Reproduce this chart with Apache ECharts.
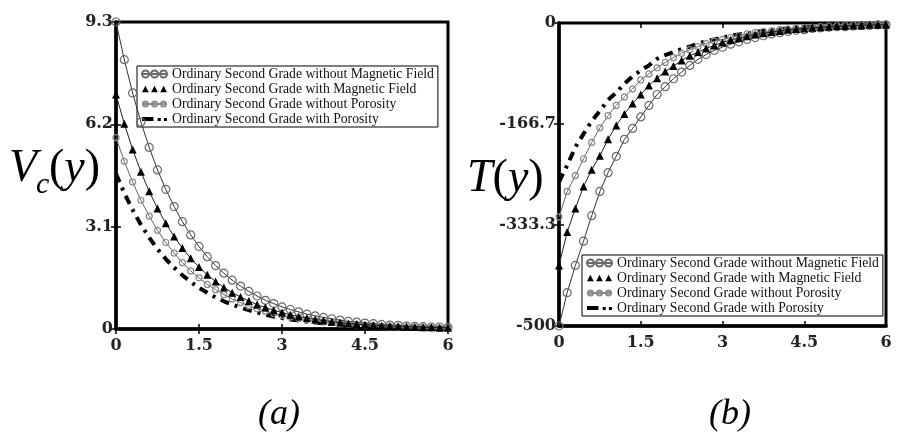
<!DOCTYPE html>
<html>
<head>
<meta charset="utf-8">
<script src="https://cdn.jsdelivr.net/npm/echarts@6/dist/echarts.min.js"></script>
<style>html,body{margin:0;padding:0;background:#fff;}#c{width:901px;height:434px;}</style>
</head>
<body>
<div id="c"></div>
<script>
const seriesNames = [
  'Ordinary Second Grade without Magnetic Field',
  'Ordinary Second Grade with Magnetic Field',
  'Ordinary Second Grade without Porosity',
  'Ordinary Second Grade with Porosity'
];
const xValues = [0,0.15,0.3,0.45,0.6,0.75,0.9,1.05,1.2,1.35,1.5,1.65,1.8,1.95,2.1,2.25,2.4,2.55,2.7,2.85,3,3.15,3.3,3.45,3.6,3.75,3.9,4.05,4.2,4.35,4.5,4.65,4.8,4.95,5.1,5.25,5.4,5.55,5.7,5.85,6];
const xTickLabels = ['0','1.5','3','4.5','6'];
const vcTickLabels = ['0','3.1','6.2','9.3'];
const tTickLabels = ['-500','-333.3','-166.7','0'];

// (a) V_c(y)
const vcNoMagnetic = [9.30,8.16,7.15,6.27,5.50,4.82,4.23,3.71,3.25,2.85,2.50,2.19,1.92,1.69,1.48,1.30,1.14,1.00,0.87,0.77,0.67,0.59,0.52,0.45,0.40,0.35,0.31,0.27,0.23,0.21,0.18,0.16,0.14,0.12,0.11,0.09,0.08,0.07,0.06,0.06,0.05];
const vcMagnetic = [7.10,6.22,5.44,4.76,4.17,3.65,3.20,2.80,2.45,2.14,1.88,1.64,1.44,1.26,1.10,0.97,0.85,0.74,0.65,0.57,0.50,0.43,0.38,0.33,0.29,0.26,0.22,0.20,0.17,0.15,0.13,0.11,0.10,0.09,0.08,0.07,0.06,0.05,0.05,0.04,0.04];
const vcNoPorosity = [5.80,5.08,4.45,3.90,3.42,2.99,2.62,2.30,2.01,1.76,1.55,1.35,1.19,1.04,0.91,0.80,0.70,0.61,0.54,0.47,0.41,0.36,0.32,0.28,0.24,0.21,0.19,0.16,0.14,0.13,0.11,0.10,0.08,0.07,0.06,0.06,0.05,0.04,0.04,0.03,0.03];
const vcPorosity = [4.70,4.12,3.61,3.16,2.77,2.42,2.12,1.86,1.63,1.43,1.25,1.10,0.96,0.84,0.74,0.65,0.57,0.50,0.44,0.38,0.33,0.29,0.26,0.22,0.20,0.17,0.15,0.13,0.12,0.10,0.09,0.08,0.07,0.06,0.05,0.05,0.04,0.04,0.03,0.03,0.02];

// (b) T(y)
const tNoMagnetic = [-500,-445,-400,-360,-318,-278,-247,-220,-192,-174,-155,-136,-118,-105,-92,-81,-70,-60,-52,-45,-40,-35,-31,-27,-24,-21,-18,-16,-14,-12,-11,-9,-8,-7,-6,-6,-5,-4,-4,-3,-3];
const tMagnetic = [-400,-345,-306,-270,-242,-219,-192,-169,-150,-133,-118,-103,-91,-80,-71,-62,-54,-48,-42,-37,-32,-28,-25,-22,-19,-17,-15,-13,-11,-10,-9,-8,-7,-6,-5,-5,-4,-4,-3,-3,-3];
const tNoPorosity = [-320,-278,-252,-224,-197,-173,-153,-136,-122,-109,-94,-84,-74,-65,-57,-50,-44,-39,-34,-30,-27,-24,-21,-18,-16,-14,-13,-11,-10,-9,-8,-7,-6,-5,-5,-4,-4,-3,-3,-3,-2];
const tPorosity = [-262,-235,-205,-183,-162,-145,-127,-115,-100,-88,-78,-70,-59,-53,-48,-43,-39,-34,-30,-27,-24,-21,-19,-17,-15,-13,-12,-10,-9,-8,-7,-6,-6,-5,-4,-4,-3,-3,-3,-2,-2];

function pairs(arr){ return xValues.map((x,i)=>[x,arr[i]]); }

const tickFont = {fontFamily:'DejaVu Serif', fontWeight:'bold', fontSize:16, color:'#222'};

function xAxisPair(gi){
  return [
    {type:'value', gridIndex:gi, position:'bottom', min:0, max:6, interval:1.5,
     axisLine:{show:true, onZero:false, lineStyle:{color:'#000', width:3.5}},
     axisTick:{show:true, inside:true, length:5, lineStyle:{color:'#000', width:1.5}},
     axisLabel:Object.assign({margin:9, formatter:v=>xTickLabels[Math.round(v/1.5)]}, tickFont),
     splitLine:{show:false}},
    {type:'value', gridIndex:gi, position:'top', min:0, max:6, interval:1.5,
     axisLine:{show:false},
     axisTick:{show:true, inside:true, length:5, lineStyle:{color:'#000', width:1.5}},
     axisLabel:{show:false}, splitLine:{show:false}}
  ];
}
function yAxisPair(gi, min, max, interval, labels){
  return [
    {type:'value', gridIndex:gi, position:'left', min:min, max:max, interval:interval,
     axisLine:{show:true, onZero:false, lineStyle:{color:'#000', width:3.5}},
     axisTick:{show:true, inside:true, length:5, lineStyle:{color:'#000', width:1.5}},
     axisLabel:Object.assign({margin:3, formatter:v=>labels[Math.round((v-min)/interval)]}, tickFont),
     splitLine:{show:false}},
    {type:'value', gridIndex:gi, position:'right', min:min, max:max, interval:interval,
     axisLine:{show:false},
     axisTick:{show:true, inside:true, length:5, lineStyle:{color:'#000', width:1.5}},
     axisLabel:{show:false}, splitLine:{show:false}}
  ];
}

function makeSeries(arr, idx, axisIdx){
  const base = {name:seriesNames[idx], type:'line', xAxisIndex:axisIdx, yAxisIndex:axisIdx,
    data:pairs(arr), emphasis:{disabled:true}, smooth:false};
  if(idx===0){
    return Object.assign(base,{symbol:'circle', symbolSize:8,
      itemStyle:{color:'rgba(255,255,255,0)', borderColor:'#6a6a6a', borderWidth:1.2},
      lineStyle:{color:'#333', width:1}, z:5});
  }
  if(idx===1){
    return Object.assign(base,{symbol:'triangle', symbolSize:8,
      itemStyle:{color:'#000'}, lineStyle:{color:'#222', width:1}, z:6});
  }
  if(idx===2){
    return Object.assign(base,{symbol:'circle', symbolSize:6,
      itemStyle:{color:'rgba(255,255,255,0)', borderColor:'#8a8a8a', borderWidth:1.2},
      lineStyle:{color:'#666', width:1}, z:4});
  }
  return Object.assign(base,{symbol:'none', showSymbol:false,
    itemStyle:{color:'#000'}, lineStyle:{color:'#000', width:4, type:[9,6,3,6]}, z:3});
}

const legendIcons = [
  'path://M0.5,4A3.5,3.5,0,1,1,7.5,4A3.5,3.5,0,1,1,0.5,4Z M9.5,4A3.5,3.5,0,1,1,16.5,4A3.5,3.5,0,1,1,9.5,4Z M18.5,4A3.5,3.5,0,1,1,25.5,4A3.5,3.5,0,1,1,18.5,4Z M0.5,4L25.5,4',
  'path://M0,8L3.5,1L7,8Z M9.5,8L13,1L16.5,8Z M19,8L22.5,1L26,8Z',
  'path://M1.5,4A2.5,2.5,0,1,1,6.5,4A2.5,2.5,0,1,1,1.5,4Z M10.5,4A2.5,2.5,0,1,1,15.5,4A2.5,2.5,0,1,1,10.5,4Z M19.5,4A2.5,2.5,0,1,1,24.5,4A2.5,2.5,0,1,1,19.5,4Z M0.5,4L25.5,4 M4,0L4,0 M4,8L4,8',
  'path://M0,3L11,3L11,7L0,7Z M15,4L18,4L18,7L15,7Z M21,4L24,4L24,7L21,7Z'
];
const legendData = seriesNames.map((n,i)=>({name:n, icon:legendIcons[i]}));

const legendCommon = {orient:'vertical', data:legendData, backgroundColor:'#fff',
  borderColor:'#000', borderWidth:1, padding:[1,4,1,4], itemWidth:25, itemHeight:14, itemGap:1,
  selectedMode:false, textStyle:{fontFamily:'Liberation Serif', fontSize:13.7, color:'#111', lineHeight:14}};

const serif = 'Liberation Serif';
const richTitle = {
  i:{fontFamily:serif, fontStyle:'italic', fontSize:46, fill:'#000', color:'#000'},
  p:{fontFamily:serif, fontSize:46, fill:'#000', color:'#000'}
};
const option = {
  animation:false,
  backgroundColor:'#fff',
  grid:[
    {left:116, top:22, width:332, height:307, show:true, borderColor:'#000', borderWidth:3, backgroundColor:'#fff'},
    {left:559, top:23, width:327, height:303, show:true, borderColor:'#000', borderWidth:3, backgroundColor:'#fff'}
  ],
  xAxis:[].concat(xAxisPair(0), xAxisPair(1)),
  yAxis:[].concat(yAxisPair(0,0,9.3,3.1,vcTickLabels), yAxisPair(1,-500,0,500/3,tTickLabels)),
  legend:[
    Object.assign({left:137, top:66}, legendCommon),
    Object.assign({left:582, top:255}, legendCommon)
  ],
  series:[
    makeSeries(vcNoMagnetic,0,0), makeSeries(vcMagnetic,1,0), makeSeries(vcNoPorosity,2,0), makeSeries(vcPorosity,3,0),
    makeSeries(tNoMagnetic,0,2), makeSeries(tMagnetic,1,2), makeSeries(tNoPorosity,2,2), makeSeries(tPorosity,3,2)
  ],
  graphic:[
    {type:'text', left:9, top:146, style:{text:'V', fontFamily:serif, fontStyle:'italic', fontSize:46, fill:'#000'}},
    {type:'text', left:36, top:170, style:{text:'c', fontFamily:serif, fontStyle:'italic', fontSize:30, fill:'#000'}},
    {type:'text', left:49, top:146, style:{text:'{p|(}{i|y}{p|)}', rich:richTitle, fill:'#000'}},
    {type:'text', left:467, top:156, style:{text:'{i|T}{p|(}{i|y}{p|)}', rich:richTitle, fill:'#000'}},
    {type:'text', left:258, top:397, style:{text:'(a)', fontFamily:serif, fontStyle:'italic', fontSize:36, fill:'#000'}},
    {type:'text', left:709, top:397, style:{text:'(b)', fontFamily:serif, fontStyle:'italic', fontSize:36, fill:'#000'}}
  ]
};
const chart = echarts.init(document.getElementById('c'), null, {renderer:'canvas'});
chart.setOption(option);
</script>
</body>
</html>
